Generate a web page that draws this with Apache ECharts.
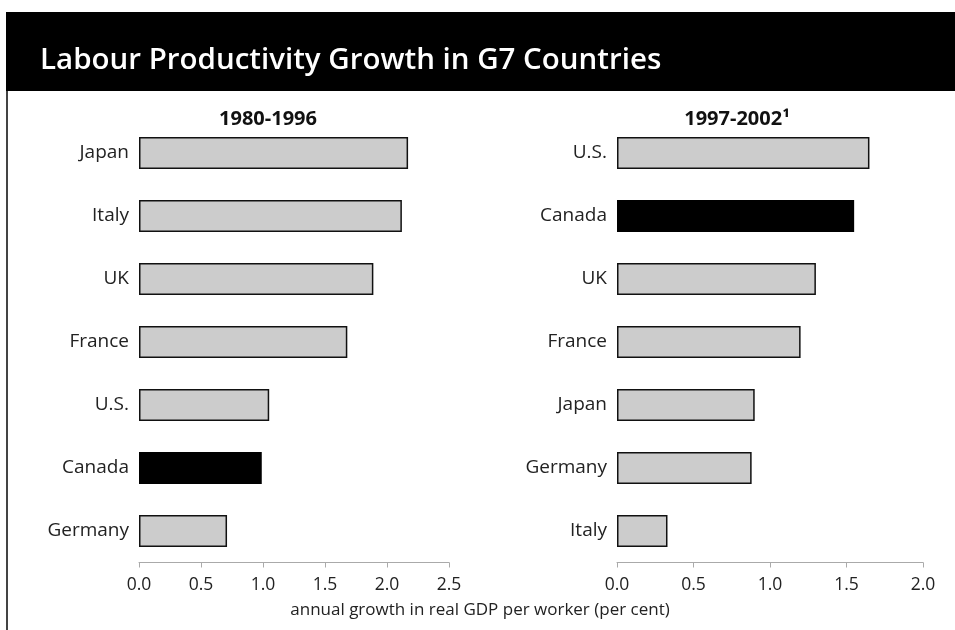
<!DOCTYPE html>
<html><head><meta charset="utf-8">
<script src="https://cdn.jsdelivr.net/npm/echarts@6/dist/echarts.min.js"></script>
<style>html,body{margin:0;padding:0;background:#fff}#c{width:955px;height:630px}</style>
</head><body><div id="c"></div>
<script>
const titleText = 'Labour Productivity Growth in G7 Countries';
const leftPeriod = '1980-1996';
const rightPeriod = '1997-2002';
const leftCountries = ['Japan','Italy','UK','France','U.S.','Canada','Germany'];
const leftValues = [2.17, 2.12, 1.89, 1.68, 1.05, 0.99, 0.71];
const rightCountries = ['U.S.','Canada','UK','France','Japan','Germany','Italy'];
const rightValues = [1.65, 1.55, 1.30, 1.20, 0.90, 0.88, 0.33];
const leftTicks = [0, 0.5, 1.0, 1.5, 2.0, 2.5];
const rightTicks = [0, 0.5, 1.0, 1.5, 2.0];
const xAxisTitle = 'annual growth in real GDP per worker (per cent)';
const highlight = 'Canada';

const FONT = 'Open Sans';
const chart = echarts.init(document.getElementById('c'), null, {renderer:'canvas'});

function barData(cats, vals){
  return vals.map((v,i)=>({
    value: v,
    itemStyle: cats[i]===highlight ? {color:'#000', borderColor:'#000', borderWidth:1.5}
                                   : {color:'#cccccc', borderColor:'#111', borderWidth:1.5}
  }));
}
function xAx(gi, ticks){
  return {
    type:'value', gridIndex:gi, min:ticks[0], max:ticks[ticks.length-1], interval:0.5,
    axisLine:{show:true, lineStyle:{color:'#aaa', width:1}},
    axisTick:{show:true, length:5, lineStyle:{color:'#aaa'}},
    splitLine:{show:false},
    axisLabel:{color:'#222', fontSize:17.5, fontFamily:FONT, margin:14, formatter:v=>v.toFixed(1)}
  };
}
function yAx(gi, cats){
  return {
    type:'category', gridIndex:gi, data:cats, inverse:true,
    axisLine:{show:false}, axisTick:{show:false},
    axisLabel:{color:'#222', fontSize:19, fontFamily:FONT, margin:10}
  };
}

chart.setOption({
  animation:false,
  backgroundColor:'#fff',
  grid:[
    {left:139, width:310, top:121.5, height:441},
    {left:617, width:306, top:121.5, height:441}
  ],
  xAxis:[xAx(0,leftTicks), xAx(1,rightTicks)],
  yAxis:[yAx(0,leftCountries), yAx(1,rightCountries)],
  series:[
    {type:'bar', xAxisIndex:0, yAxisIndex:0, barWidth:32, data:barData(leftCountries,leftValues)},
    {type:'bar', xAxisIndex:1, yAxisIndex:1, barWidth:32, data:barData(rightCountries,rightValues)}
  ],
  graphic:[
    {type:'rect', shape:{x:6, y:12, width:960, height:79}, style:{fill:'#000'}, z:0},
    {type:'line', shape:{x1:7, y1:91, x2:7, y2:630}, style:{stroke:'#444', lineWidth:2}},
    {type:'text', x:40, y:61, style:{text:titleText, fill:'#fff', font:'600 29.5px "'+FONT+'"', textVerticalAlign:'middle'}},
    {type:'text', x:268, y:119, style:{text:leftPeriod, fill:'#111', font:'bold 20px "'+FONT+'"', textAlign:'center', textVerticalAlign:'middle'}},
    {type:'text', x:737, y:119, style:{text:rightPeriod+'¹', fill:'#111', font:'bold 20px "'+FONT+'"', textAlign:'center', textVerticalAlign:'middle'}},
    {type:'text', x:480, y:610, style:{text:xAxisTitle, fill:'#222', font:'17px "'+FONT+'"', textAlign:'center', textVerticalAlign:'middle'}}
  ]
});
</script></body></html>
